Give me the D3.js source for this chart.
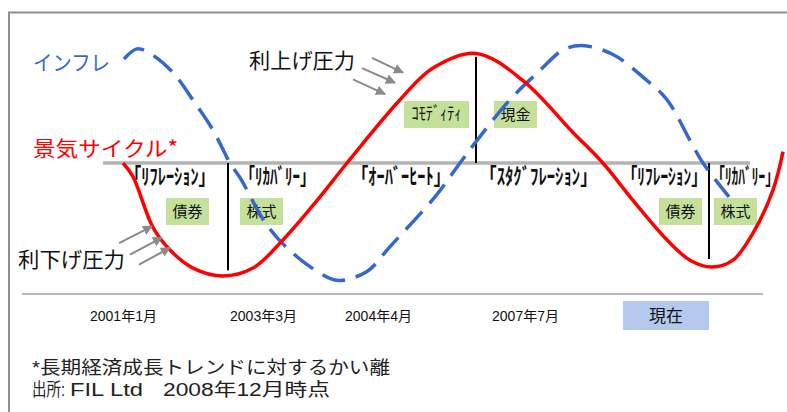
<!DOCTYPE html>
<html><head><meta charset="utf-8">
<script src="https://cdn.jsdelivr.net/npm/d3@7"></script>
<style>body{margin:0;background:#fff}</style>
</head><body><svg id="c" width="787" height="412"></svg>
<script>
// ---- data (position along the cycle t: 0..100, deviation v: -1..1) ----
const cycleT = [3.35, 4.8, 7.71, 10.19, 13.54, 17.9, 22.27, 26.64, 32.02, 35.95, 43.67, 48.47, 54.73, 61.57, 68.85, 73.2, 77.58, 82.53, 85.88, 89.08, 92.14, 95.05, 97.96, 99.42];
const cycleV = [0.0, -0.12, -0.57, -0.77, -0.93, -1.0, -0.93, -0.68, -0.3, 0.0, 0.56, 0.84, 0.97, 0.73, 0.27, 0.0, -0.33, -0.68, -0.86, -0.92, -0.86, -0.62, -0.24, 0.1];
const inflT = [3.49, 5.39, 7.28, 10.63, 13.83, 16.45, 18.92, 20.38, 24.31, 28.09, 33.04, 34.93, 38.86, 42.21, 48.76, 52.4, 54.88, 59.68, 64.05, 67.39, 70.16, 74.67, 79.04, 82.53, 85.88, 87.77, 91.56];
const inflV = [0.92, 1.01, 0.97, 0.8, 0.53, 0.29, 0.0, -0.13, -0.55, -0.8, -1.01, -1.04, -0.96, -0.74, -0.3, 0.0, 0.2, 0.56, 0.82, 1.0, 1.04, 0.96, 0.76, 0.56, 0.2, 0.0, -0.3];
const phaseNames = ["「ﾘﾌﾚｰｼｮﾝ」", "「ﾘｶﾊﾞﾘｰ」", "「ｵｰﾊﾞｰﾋｰﾄ」", "「ｽﾀｸﾞﾌﾚｰｼｮﾝ」", "「ﾘﾌﾚｰｼｮﾝ」", "「ﾘｶﾊﾞﾘｰ」"];
const phaseStart = [3.64, 20.38, 36.68, 55.31, 75.98, 89.0];
const phaseEnd = [16.74, 31.3, 50.95, 72.34, 88.3, 98.8];
const assetNames = ["債券", "株式", "ｺﾓﾃﾞｨﾃｨ", "現金", "債券", "株式"];
const assetT = [12.74, 23.51, 48.98, 60.48, 84.5, 92.49];
const assetUpper = [false, false, true, true, false, false];
const turnT = [18.63, 54.73, 88.65];
const turnV = [-0.95, 0.94, -0.85];
const dateLabels = ["2001年1月", "2003年3月", "2004年4月", "2007年7月"];
const dateT = [3.42, 23.8, 40.54, 61.94];
const nowLabel = "現在";
const nowT = 82.39;
const hikeArrows = [[39.59, 0.93, 44.1, 0.8], [38.14, 0.84, 42.94, 0.71], [36.83, 0.74, 41.48, 0.61]];
const cutArrows = [[2.77, -0.71, 7.57, -0.56], [4.37, -0.81, 9.02, -0.66], [5.68, -0.9, 10.19, -0.75]];

// ---- layout ----
const svg = d3.select("#c");
const x = d3.scaleLinear().domain([0, 100]).range([100, 787]);
const y = d3.scaleLinear().domain([-1, 1]).range([276, 50]);
const JP = "'Noto Sans CJK JP', sans-serif";
const LAT = "'Liberation Sans', 'Noto Sans CJK JP', sans-serif";

// frame
svg.append("path").attr("d", "M9,412 V12.5 H787").attr("fill", "none")
  .attr("stroke", "#8f8f8f").attr("stroke-width", 2);

// baseline
svg.append("line").attr("x1", x(0.44)).attr("x2", x(94.6)).attr("y1", y(0)).attr("y2", y(0))
  .attr("stroke", "#b3b3b3").attr("stroke-width", 3.5);

// axis line
svg.append("line").attr("x1", 22).attr("x2", 763).attr("y1", 294).attr("y2", 294)
  .attr("stroke", "#a0a0a0").attr("stroke-width", 1.5);

// turning point vertical lines
turnT.forEach((t, i) => {
  svg.append("line").attr("x1", x(t)).attr("x2", x(t)).attr("y1", y(0)).attr("y2", y(turnV[i]))
    .attr("stroke", "#000").attr("stroke-width", 2);
});

// asset boxes
assetNames.forEach((n, i) => {
  const wide = n.length > 2;
  const w = wide ? 65 : 43;
  const top = assetUpper[i] ? 101 : 198;
  svg.append("rect").attr("x", x(assetT[i]) - w / 2).attr("y", top).attr("width", w).attr("height", 27)
    .attr("fill", "#c4e09b");
  const t = svg.append("text").attr("x", x(assetT[i]) - (wide ? 25 : 0)).attr("y", top + 19)
    .attr("text-anchor", wide ? "start" : "middle")
    .attr("font-family", JP).attr("font-size", wide ? 18 : 15).attr("fill", "#111").text(n);
  if (wide) t.attr("textLength", 50).attr("lengthAdjust", "spacingAndGlyphs");
});

// phase labels (horizontally compressed by a transform)
phaseNames.forEach((n, i) => {
  const t = svg.append("text").attr("x", 0).attr("y", 0)
    .attr("font-family", JP).attr("font-size", 22).attr("font-weight", 600).attr("fill", "#111")
    .text(n);
  const nat = t.node().getComputedTextLength();
  const k = (x(phaseEnd[i]) - x(phaseStart[i])) / nat;
  t.attr("transform", `translate(${x(phaseStart[i])},184) scale(${k},1)`);
});

// curves
const line = d3.line().x(d => x(d[0])).y(d => y(d[1])).curve(d3.curveCatmullRom.alpha(0.5));
svg.append("path").attr("d", line(inflT.map((t, i) => [t, inflV[i]])))
  .attr("fill", "none").attr("stroke", "#3468cc").attr("stroke-width", 3.5)
  .attr("stroke-dasharray", "24 11");
svg.append("path").attr("d", line(cycleT.map((t, i) => [t, cycleV[i]])))
  .attr("fill", "none").attr("stroke", "#ff0000").attr("stroke-width", 3.5);

// arrows
const defs = svg.append("defs");
defs.append("marker").attr("id", "ah").attr("viewBox", "0 0 10 10").attr("refX", 9).attr("refY", 5)
  .attr("markerWidth", 5).attr("markerHeight", 5).attr("orient", "auto")
  .append("path").attr("d", "M0,0 L10,5 L0,10 z").attr("fill", "#8a8a8a");
hikeArrows.concat(cutArrows).forEach(a => {
  svg.append("line").attr("x1", x(a[0])).attr("y1", y(a[1])).attr("x2", x(a[2])).attr("y2", y(a[3]))
    .attr("stroke", "#8a8a8a").attr("stroke-width", 2).attr("marker-end", "url(#ah)");
});

// date labels
dateLabels.forEach((d, i) => {
  svg.append("text").attr("x", x(dateT[i])).attr("y", 321).attr("text-anchor", "middle")
    .attr("font-family", LAT).attr("font-size", 14).attr("fill", "#111").text(d);
});
svg.append("rect").attr("x", x(nowT) - 43).attr("y", 301).attr("width", 86).attr("height", 29).attr("fill", "#b5c9ef");
svg.append("text").attr("x", x(nowT)).attr("y", 322).attr("text-anchor", "middle")
  .attr("font-family", JP).attr("font-size", 17).attr("fill", "#111").text(nowLabel);

// big labels
svg.append("text").attr("x", 33).attr("y", 70).attr("font-family", JP).attr("font-size", 21)
  .attr("fill", "#3468cc").attr("textLength", 77).attr("lengthAdjust", "spacingAndGlyphs").text("インフレ");
svg.append("text").attr("x", 33).attr("y", 156).attr("font-family", JP).attr("font-size", 21)
  .attr("fill", "#ff0000").attr("textLength", 145).attr("lengthAdjust", "spacingAndGlyphs").text("景気サイクル*");
svg.append("text").attr("x", 249).attr("y", 68).attr("font-family", JP).attr("font-size", 21)
  .attr("fill", "#111").attr("textLength", 106).attr("lengthAdjust", "spacingAndGlyphs").text("利上げ圧力");
svg.append("text").attr("x", 18).attr("y", 267).attr("font-family", JP).attr("font-size", 21)
  .attr("fill", "#111").attr("textLength", 107).attr("lengthAdjust", "spacingAndGlyphs").text("利下げ圧力");

// footnotes
svg.append("text").attr("x", 32).attr("y", 374).attr("font-family", LAT).attr("font-size", 18)
  .attr("fill", "#222").attr("textLength", 358).attr("lengthAdjust", "spacingAndGlyphs").text("*長期経済成長トレンドに対するかい離");
const src = svg.append("text").attr("y", 396).attr("font-family", LAT).attr("font-size", 18).attr("fill", "#222");
src.append("tspan").attr("x", 32).attr("textLength", 33).attr("lengthAdjust", "spacingAndGlyphs").text("出所:");
src.append("tspan").attr("x", 70).attr("textLength", 73).attr("lengthAdjust", "spacingAndGlyphs").text("FIL Ltd");
src.append("tspan").attr("x", 163).attr("textLength", 167).attr("lengthAdjust", "spacingAndGlyphs").text("2008年12月時点");
</script></body></html>
